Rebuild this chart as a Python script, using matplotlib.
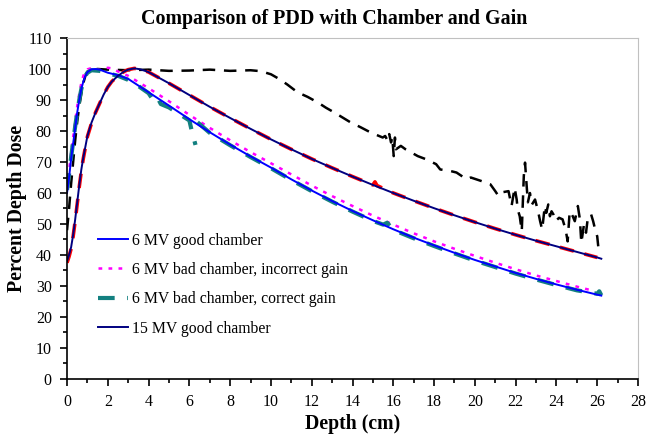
import numpy as np
import matplotlib
matplotlib.use("Agg")
import matplotlib.pyplot as plt
from matplotlib.ticker import MultipleLocator

# depth grids (cm)
d6 = [0, 0.1, 0.2, 0.3, 0.4, 0.5, 0.6, 0.7, 0.8, 0.9, 1.0, 1.2, 1.4, 1.6, 1.8, 2.0,
      2.5, 3, 4, 5, 6, 7, 8, 9, 10, 11, 12, 13, 14, 15, 16, 17, 18, 19, 20, 21,
      22, 23, 24, 25, 26, 26.2]
good6 = [60, 65, 71, 76, 81, 86, 90, 93.5, 96, 97.8, 99, 99.9, 100, 99.8, 99.3, 98.8,
         98.0, 96.8, 92.5, 88.2, 83.8, 79.6, 75.6, 71.8, 68.2, 64.4, 60.8, 57.4, 54.2,
         51.2, 48.3, 45.6, 43.1, 40.7, 38.4, 36.3, 34.2, 32.3, 30.5, 28.8, 27.2, 26.9]

d6_bad = [0, 0.1, 0.2, 0.3, 0.4, 0.5, 0.6, 0.7, 0.8, 0.9, 1.0, 1.2, 1.4, 1.6, 1.8, 2.0,
          2.2, 2.5, 3, 4, 5, 6, 7, 8, 9, 10, 11, 12, 13, 14, 15, 16, 17, 18, 19, 20,
          21, 22, 23, 24, 25, 25.6]
bad_gain6 = [62, 67, 73, 78, 83, 88, 92, 95.5, 97.8, 99.2, 99.9, 100.3, 100, 99.7, 100,
             100.4, 100.2, 99.2, 97.8, 93.8, 89.6, 85.2, 81.0, 77.0, 73.2, 69.6, 66.0,
             62.4, 59.0, 55.8, 52.7, 49.8, 47.0, 44.4, 42.0, 39.7, 37.5, 35.4, 33.4,
             31.6, 29.8, 28.8]

d6_cor = [0, 0.1, 0.2, 0.3, 0.4, 0.5, 0.6, 0.7, 0.8, 0.9, 1.0, 1.2, 1.4, 1.6, 1.8, 2.0,
          2.5, 3, 3.5, 4.0, 4.2, 4.4, 4.6, 5, 5.5, 6.0, 6.1, 6.2, 6.3, 6.32, 6.4, 7, 8,
          9, 10, 11, 12, 13, 14, 15, 15.5, 15.7, 16, 17, 18, 19, 20, 21, 22, 23, 24,
          25, 26, 26.1, 26.2]
cor_gain6 = [61, 66, 71.5, 76.5, 81.5, 86, 90, 93.5, 96, 97.8, 98.8, 99.6, 99.5, 99.4,
             99.0, 98.6, 97.8, 96.5, 94.5, 92.2, 90.2, 91.2, 88.7, 87.6, 85.5, 83.4,
             80.5, 78, 75.5, np.nan, 82.8, 79.4, 75.4, 71.6, 68.0, 64.2, 60.6, 57.2,
             54.0, 51.0, 49.8, 50.4, 48.1, 45.4, 42.9, 40.5, 38.2, 36.1, 34.0, 32.1,
             30.3, 28.6, 27.5, 28.3, 27.0]

d15 = [0, 0.1, 0.2, 0.3, 0.4, 0.5, 0.6, 0.7, 0.8, 1.0, 1.2, 1.4, 1.6, 1.8, 2.0, 2.2,
       2.5, 2.8, 3.0, 3.3, 3.6, 4, 5, 6, 7, 8, 9, 10, 11, 12, 13, 14, 15, 16, 17, 18,
       19, 20, 21, 22, 23, 24, 25, 26, 26.2]
good15 = [38, 40, 42.5, 46.5, 51.5, 57, 62.5, 67.5, 71.5, 78.4, 82.7, 86, 88.9, 91.8,
          94.2, 96, 97.8, 99.2, 99.8, 100.2, 99.9, 99, 95.4, 91.6, 87.8, 84.2, 80.7,
          77.3, 74.1, 71.0, 68.1, 65.3, 62.6, 60.0, 57.5, 55.1, 52.8, 50.6, 48.5,
          46.5, 44.6, 42.8, 41.0, 39.2, 38.8]

d15_b = [0, 0.1, 0.2, 0.3, 0.4, 0.5, 0.6, 0.7, 0.8, 1.0, 1.2, 1.4, 1.6, 1.8, 2.0, 2.2,
         2.5, 2.8, 3.0, 3.3, 3.6, 4, 5, 6, 7, 8, 9, 10, 11, 12, 13, 14, 15, 15.1, 15.2,
         16, 17, 18, 19, 20, 21, 22, 23, 24, 25, 26]
red15 = [37.5, 39.5, 42, 46, 51, 56.5, 62, 67, 71.2, 78.2, 82.5, 86, 88.9, 91.8, 94.2,
         96, 97.8, 99.2, 99.8, 100.2, 99.9, 99, 95.4, 91.6, 87.8, 84.2, 80.7, 77.3,
         74.1, 71.0, 68.1, 65.3, 62.6, 63.6, 62.4, 60.0, 57.5, 55.1, 52.8, 50.6, 48.5,
         46.5, 44.6, 42.8, 41.0, 39.2]

d_sat = [0, 0.1, 0.2, 0.3, 0.4, 0.5, 0.6, 0.7, 0.8, 0.9, 1.0, 1.2, 1.5, 2, 3, 4, 5, 6,
         7, 8, 9, 9.5, 10, 10.4, 10.8, 11.3, 11.8, 12.3, 12.7, 13.1, 13.5, 13.9, 14.4,
         14.75, 15.08, 15.48, 15.6, 15.73, 15.8, 15.89, 15.95, 16.02, 16.08, 16.13,
         16.37, 16.6, 17.2, 17.6, 18.1, 18.3, 18.8, 19.1, 19.6, 19.8, 20.3, 20.76, 21.0,
         21.16, 21.4, 21.65, 21.75, 21.8, 21.95, 22.05, 22.1, 22.2, 22.3, 22.4, 22.46,
         22.54, 22.6, 22.7, 22.8, 22.95, 23.1, 23.2, 23.3, 23.43, 23.5, 23.6, 23.68,
         23.76, 23.85, 23.95, 24.13, 24.3, 24.45, 24.55, 24.65, 24.8, 24.9, 25.05,
         25.15, 25.22, 25.35, 25.45, 25.55, 25.7, 25.8, 25.9, 26.0, 26.05]
sat15 = [48, 55, 63, 70, 77, 83, 88, 92, 95.5, 97.8, 99.2, 99.8, 100, 99.8, 99.6, 99.8,
         99.4, 99.5, 99.8, 99.4, 99.6, 99.3, 98.3, 96.8, 95, 92.5, 91, 89.2, 87.5, 86,
         84.4, 82.8, 81.2, 80, 79, 77.9, 78.4, 76.8, 79, 76.3, 78, 71.9, 77.9, 74.1,
         75.2, 74.1, 71.9, 70.9, 69.3, 67.6, 67.1, 66.6, 64.4, 65, 63.9, 62.8, 60.6, 59,
         60.3, 60.6, 57.4, 55.8, 61.7, 57.9, 54.7, 52.5, 47.7, 65.5, 69.8, 62.3, 57, 60,
         56.3, 57.9, 54.1, 50.9, 48.2, 55.8, 53.6, 56.3, 52.5, 54.1, 53.1, 50.9, 52,
         51.5, 48.2, 44.4, 54.1, 52.5, 50.9, 55.8, 51.5, 43.9, 49.8, 47.2, 52.5, 53.1,
         50.9, 48.2, 46, 42.8]

plt.rcParams['font.family'] = ['Liberation Serif', 'DejaVu Serif']

fig = plt.figure(figsize=(6.47, 4.43), dpi=100)
ax = fig.add_axes([0.1036, 0.1445, 0.8825, 0.7697])

ax.plot(d_sat, sat15, color='black', lw=1.8, dashes=(5, 3.5))
ax.plot(d15_b, red15, color='red', lw=2.6, dashes=(4, 3))
ax.plot(d6_bad, bad_gain6, color='magenta', lw=1.8, dashes=(1.5, 2.5),
        label='6 MV bad chamber, incorrect gain')
ax.plot(d6_cor, cor_gain6, color='#138080', lw=3, dashes=(4, 3),
        label='6 MV bad chamber, correct gain')
ax.plot(d6, good6, color='blue', lw=1.4, label='6 MV good chamber')
ax.plot(d15, good15, color='#000080', lw=1.4, label='15 MV good chamber')

ax.set_xlim(0, 28)
ax.set_ylim(0, 110)
ax.xaxis.set_major_locator(MultipleLocator(2))
ax.xaxis.set_minor_locator(MultipleLocator(1))
ax.yaxis.set_major_locator(MultipleLocator(10))
ax.yaxis.set_minor_locator(MultipleLocator(5))
ax.tick_params(which='major', direction='out', length=5, width=1.2, labelsize=11.5, pad=6)
ax.tick_params(which='minor', direction='out', length=3, width=1.2)

for s in ['top', 'right']:
    ax.spines[s].set_color('#c0c0c0')
for s in ['left', 'bottom']:
    ax.spines[s].set_linewidth(1.2)

fig.text(0.516, 0.958, 'Comparison of PDD with Chamber and Gain', fontsize=14.4,
         fontweight='bold', ha='center', va='center')
ax.set_xlabel('Depth (cm)', fontsize=14.2, fontweight='bold', labelpad=3)
ax.set_ylabel('Percent Depth Dose', fontsize=14.3, fontweight='bold', labelpad=0.5)

h, l = ax.get_legend_handles_labels()
order = [2, 0, 1, 3]
ax.legend([h[i] for i in order], [l[i] for i in order], loc='lower left',
          bbox_to_anchor=(0.029, 0.083), frameon=False, fontsize=11.3,
          handlelength=1.9, labelspacing=0.85, handletextpad=0.3)

fig.savefig('out.png', dpi=100)
